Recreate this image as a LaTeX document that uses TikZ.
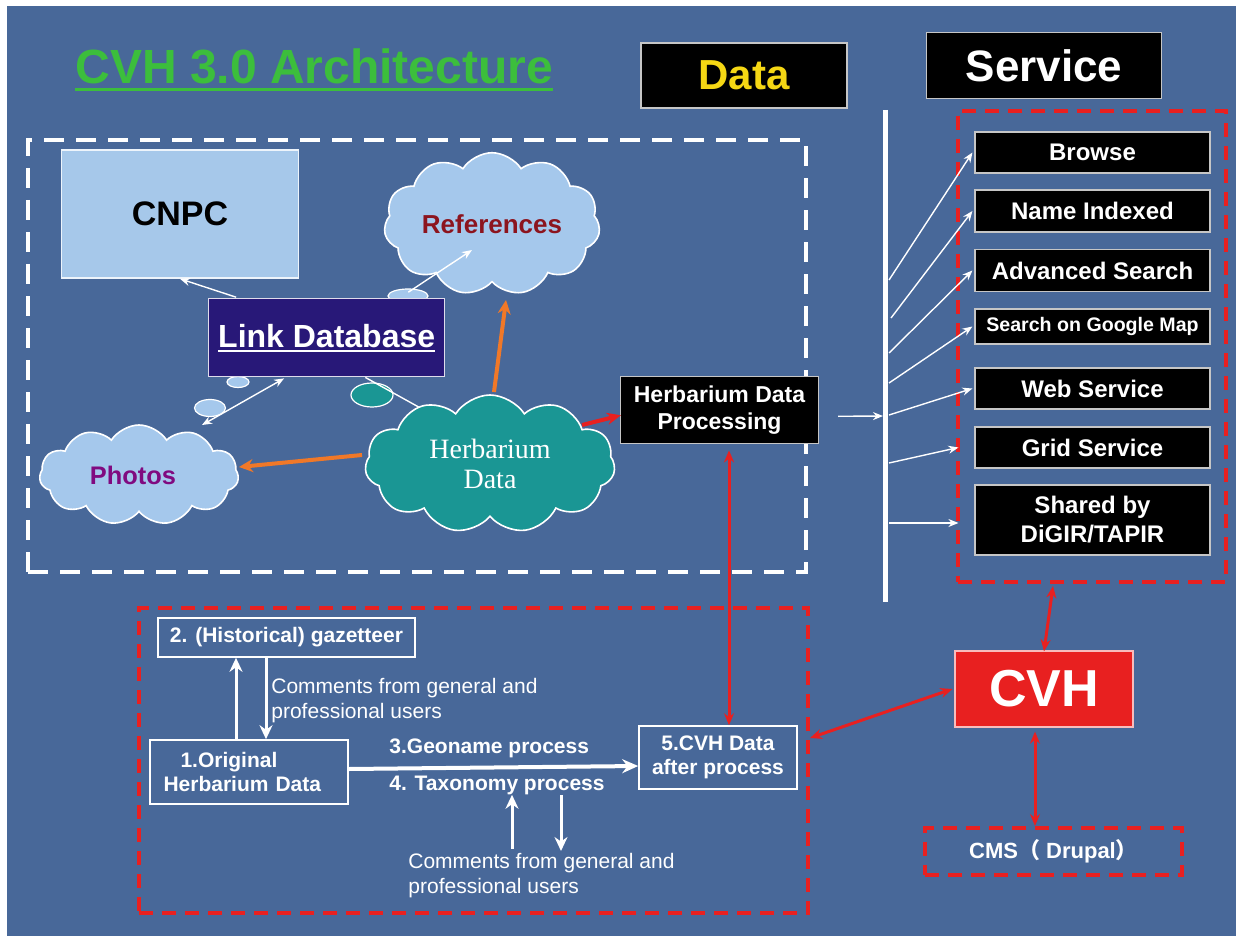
\documentclass[tikz,border=0pt]{standalone}
\usepackage{fontspec}
\setmainfont{Liberation Sans}
\newfontfamily\serifh{Liberation Serif}
\newfontfamily\cjk{Noto Sans CJK SC}
\usetikzlibrary{shapes.geometric,shapes.symbols,arrows.meta,calc}
\definecolor{bgblue}{RGB}{72,104,153}
\definecolor{cloudblue}{RGB}{165,200,236}
\definecolor{cnpcblue}{RGB}{166,200,234}
\definecolor{teal2}{RGB}{26,150,148}
\definecolor{linkblue}{RGB}{40,24,120}
\definecolor{orange2}{RGB}{240,120,40}
\definecolor{cvhred}{RGB}{232,32,32}
\definecolor{titlegreen}{RGB}{60,190,60}
\definecolor{datayellow}{RGB}{245,215,20}
\definecolor{refred}{RGB}{140,20,30}
\definecolor{photopurple}{RGB}{128,10,128}
\begin{document}
\begin{tikzpicture}[x=0.5pt,y=-0.5pt,
  blackbox/.style={draw=gray!45, line width=0.6pt, fill=black, text=white, inner sep=0pt},
  svcbox/.style={blackbox, minimum width=117.5pt, font=\bfseries\fontsize{12}{14.5}\selectfont, align=center},
  wthin/.style={draw=white, line width=0.7pt, -{Stealth[length=5pt,width=4pt]}},
  wthinb/.style={draw=white, line width=0.7pt, {Stealth[length=5pt,width=4pt]}-{Stealth[length=5pt,width=4pt]}},
  wthick/.style={draw=white, line width=1.5pt, -{Stealth[length=7pt,width=6.5pt]}},
  oarrow/.style={draw=orange2, line width=2pt, -{Stealth[length=7pt,width=6.5pt]}},
  rarrow/.style={draw=cvhred, line width=2pt, -{Stealth[length=7pt,width=6pt]}},
  rdarrow/.style={draw=cvhred, line width=1.5pt, {Stealth[length=6pt,width=5pt]}-{Stealth[length=6pt,width=5pt]}},
  reddash/.style={draw=cvhred, line width=2pt, dash pattern=on 7pt off 4.5pt, inner sep=0pt},
  lbox/.style={draw=white, line width=0.8pt, text=white, inner sep=0pt, font=\bfseries\fontsize{10.5}{12}\selectfont},
  ltext/.style={text=white, inner sep=0pt, font=\bfseries\fontsize{10.5}{12}\selectfont},
  ctext/.style={text=white, inner sep=0pt, align=left, font=\fontsize{10.5}{12.3}\selectfont},
  bubble/.style={ellipse, draw=white, line width=0.6pt, inner sep=0pt},
  cloudnode/.style={cloud, cloud puffs=11, cloud puff arc=115, draw=white, line width=0.8pt, inner sep=0pt}
]
\useasboundingbox (0,0) rectangle (1236,936);
\fill[bgblue] (7,6) rectangle (1236,936);

% title
\node[anchor=base west, inner sep=0pt, text=titlegreen, font=\bfseries\fontsize{24}{28}\selectfont] (title) at (75,84)
  {\setbox0\hbox{CVH 3.0 Architecture}\rlap{\rule[-3.75pt]{\wd0}{1.5pt}}\box0};

% headers
\node[blackbox, minimum width=103pt, minimum height=32.5pt, text=datayellow, font=\bfseries\fontsize{21}{24}\selectfont] (data) at (744,75.5) {Data};
\node[blackbox, minimum width=117.5pt, minimum height=33pt, font=\bfseries\fontsize{22}{26}\selectfont] (service) at (1044,65.5) {Service};

% data frame
\node[draw=white, line width=2pt, dash pattern=on 10pt off 6pt, minimum width=389pt, minimum height=216pt, inner sep=0pt] (dataframe) at (417,356) {};

% CNPC
\node[draw=white!80!cnpcblue, line width=0.8pt, fill=cnpcblue, minimum width=118.5pt, minimum height=64pt, font=\bfseries\fontsize{17}{20}\selectfont] (cnpc) at (180,214) {CNPC};

% clouds
\node[cloudnode, aspect=1.7, fill=cloudblue, minimum width=108pt, minimum height=64pt, text=refred, font=\bfseries\fontsize{13}{15}\selectfont] (refs) at (492,224) {References};
\node[cloudnode, aspect=2, fill=cloudblue, minimum width=99.5pt, minimum height=50pt, text=photopurple, font=\bfseries\fontsize{12.7}{15}\selectfont] (photos) at (139,475) {Photos\hspace*{6pt}};

% bubbles
\node[bubble, fill=cloudblue, minimum width=20pt, minimum height=7pt] (bub1) at (408,296) {};
\node[bubble, fill=cloudblue, minimum width=11pt, minimum height=5.5pt] (bub2) at (238,382) {};
\node[bubble, fill=cloudblue, minimum width=15.5pt, minimum height=8.5pt] (bub3) at (210,408) {};
\node[bubble, fill=teal2, minimum width=21pt, minimum height=12pt] (bub4) at (372,395) {};

% link database
\node[fill=linkblue, draw=white!85!linkblue, line width=0.6pt, minimum width=118pt, minimum height=39pt, text=white, font=\bfseries\fontsize{16}{19}\selectfont] (link) at (326.7,337.8)
  {\setbox0\hbox{Link Database}\rlap{\rule[-2.2pt]{\wd0}{1pt}}\box0};

% herbarium data processing
\node[blackbox, minimum width=99pt, minimum height=33.5pt, align=center, font=\bfseries\fontsize{11.5}{13.5}\selectfont] (hdp) at (719.5,410.3) {Herbarium Data\\Processing};

% line link - herbarium (behind cloud)
\draw[white, line width=0.7pt] ($(link.south east)+(-80,0)$) -- (433,415) coordinate (lhend);

\node[cloudnode, aspect=1.8, fill=teal2, minimum width=125pt, minimum height=69pt, text=white, align=center, font=\serifh\fontsize{14}{15}\selectfont] (herb) at (490,464) {\\[-5pt]Herbarium\\Data};

% white arrows in data area
\draw[wthin] ($(link.north west)+(28,-1)$) -- (cnpc.south);
\draw[wthin] ($(link.north east)+(-37,-6)$) -- ($(refs.center)+(-20,26)$);
\draw[wthinb] ($(link.south west)+(76,1)$) -- ($(photos.center)+(63,-50)$);

% orange arrows
\draw[oarrow] ($(herb.center)+(4,-72)$) -- ($(refs.center)+(14,76)$);
\draw[oarrow] ($(herb.center)+(-128,-9)$) -- ($(photos.center)+(100,-8)$);

% red herb -> hdp
\draw[rarrow] ($(herb.center)+(92,-39)$) -- ($(hdp.west)+(1,5)$);

% vertical bar
\coordinate (bartop) at (885,110);
\coordinate (barbot) at (885,602);
\coordinate (barjoin) at (883,416);
\draw[white, line width=2.5pt] (bartop) -- (barbot);
\draw[wthin] ($(hdp.east)+(19,6)$) -- (barjoin);

% service boxes
\node[svcbox, minimum height=20.5pt] (browse) at (1092.5,152.5) {Browse};
\node[svcbox, minimum height=21pt] (nameidx) at (1092.5,211) {Name Indexed};
\node[svcbox, minimum height=21pt] (adv) at (1092.5,270.5) {Advanced Search};
\node[svcbox, minimum height=17.5pt, font=\bfseries\fontsize{9.8}{11}\selectfont] (gmap) at (1092.5,326.5) {Search on Google Map};
\node[svcbox, minimum height=20.5pt] (web) at (1092.5,388.5) {Web Service};
\node[svcbox, minimum height=20.5pt] (grid) at (1092.5,447.5) {Grid Service};
\node[svcbox, minimum height=35pt] (shared) at (1092.5,520) {Shared by\\DiGIR/TAPIR};

\node[reddash, minimum width=134pt, minimum height=235.5pt] (svcframe) at (1092,346.5) {};

% fan arrows
\coordinate (f1) at (889,280);
\coordinate (f2) at (891,318);
\coordinate (f3) at (889,353);
\coordinate (f4) at (889,383);
\coordinate (f5) at (889,415);
\coordinate (f6) at (889,463);
\coordinate (f7) at (889,523);
\draw[wthin] (f1) -- ([xshift=-1pt]browse.west);
\draw[wthin] (f2) -- ([xshift=-1pt]nameidx.west);
\draw[wthin] (f3) -- ([xshift=-1pt]adv.west);
\draw[wthin] (f4) -- ([xshift=-1pt]gmap.west);
\draw[wthin] (f5) -- ([xshift=-1pt]web.west);
\draw[wthin] (f6) -- ([xshift=-8pt]grid.west);
\draw[wthin] (f7) -- ([xshift=-8pt,yshift=-1.5pt]shared.west);

% CVH and CMS
\node[fill=cvhred, draw=white!70!cvhred, line width=0.6pt, minimum width=89pt, minimum height=38pt, text=white, font=\bfseries\fontsize{26}{30}\selectfont] (cvh) at (1044,689) {CVH};
\node[reddash, minimum width=128.5pt, minimum height=23.5pt, text=white, font=\bfseries\fontsize{11}{12}\selectfont] (cms) at (1053.5,851.5) {CMS{\cjk （} Drupal{\cjk ）}};

% processing frame
\node[reddash, minimum width=334.5pt, minimum height=152.5pt] (procframe) at (473.5,760.5) {};

\node[lbox, minimum width=128.5pt, minimum height=19.5pt] (gaz) at (286.5,637.5) {2. (Historical) gazetteer};
\node[lbox, minimum width=99pt, minimum height=32pt, inner xsep=6.75pt, text width=85.5pt, align=left] (orig) at (249,772) {\hspace*{8.5pt}1.Original\\Herbarium Data};
\node[lbox, minimum width=79pt, minimum height=31.5pt, align=center] (cvhd) at (718,757.5) {5.CVH Data\\after process};

\node[ltext, anchor=base west] (geo) at (389,753) {3.Geoname process};
\node[ltext, anchor=base west] (tax) at (389,790) {4. Taxonomy process};
\node[ctext, anchor=north west] (com1) at (271,678) {Comments from general and\\professional users};
\node[ctext, anchor=north west] (com2) at (408,853) {Comments from general and\\professional users};

% lower arrows
\coordinate (xa) at (236,0);
\coordinate (xb) at (266,0);
\coordinate (xu) at (512,0);
\coordinate (xd) at (561,0);
\draw[wthick] (xa |- orig.north) -- (xa |- gaz.south);
\draw[wthick] (xb |- gaz.south) -- (xb |- orig.north);
\draw[wthick] ($(xu |- com2.north)+(0,-4)$) -- (xu |- tax.south);
\draw[wthick] (xd |- tax.south) -- ($(xd |- com2.north)+(0,-2)$);
\draw[draw=white, line width=2pt, -{Stealth[length=8pt,width=7pt]}] ($(orig.east)+(0,-3)$) -- ($(cvhd.west)+(0,8.5)$);

% red connectors
\coordinate (sA) at (1053,586);
\coordinate (pA) at (810,738);
\coordinate (xc) at (1035,0);
\coordinate (xh) at (729,0);
\draw[rdarrow] (sA) -- ([yshift=-0.5pt]cvh.north);
\draw[rdarrow] (pA) -- ([xshift=-1pt]cvh.west);
\draw[rdarrow, shorten <=2pt] (xc |- cvh.south) -- (xc |- cms.north);
\draw[rdarrow, shorten <=3pt] (xh |- hdp.south) -- (xh |- cvhd.north);
\end{tikzpicture}
\end{document}
